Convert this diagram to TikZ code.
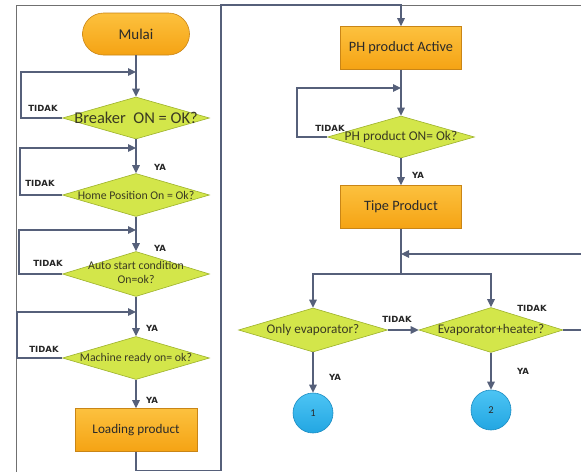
\documentclass[tikz,border=0pt]{standalone}
\usepackage{fontspec}
\setmainfont{Carlito}
\newfontfamily\lblfont{DejaVu Sans}
\usetikzlibrary{shapes.geometric,arrows.meta,calc}
\definecolor{lnc}{HTML}{56607A}
\definecolor{bordc}{HTML}{707070}
\definecolor{ort}{HTML}{FCC13E}
\definecolor{orb}{HTML}{F5A314}
\definecolor{ord}{HTML}{C98516}
\definecolor{dgf}{HTML}{D3E64A}
\definecolor{dgd}{HTML}{9DB22B}
\definecolor{blt}{HTML}{4CC4F4}
\definecolor{blb}{HTML}{23A6E2}
\definecolor{bld}{HTML}{1C8CC2}
\definecolor{txc}{HTML}{2A2A2A}
\definecolor{dtxc}{HTML}{3A3A22}
\newcommand\ctext[1]{\makebox[0pt]{#1}}
\newcommand\fsz[1]{\fontsize{#1}{#1}\selectfont}
\begin{document}
\begin{tikzpicture}[x=1pt,y=-1pt,
  conn/.style={draw=lnc, line width=1.2pt},
  arr/.style={conn, -{Triangle[length=8pt,width=7.5pt]}},
  bord/.style={draw=bordc, line width=1pt},
  procbox/.style={rectangle, draw=ord, line width=0.6pt, top color=ort, bottom color=orb,
    minimum width=121pt, minimum height=43pt, inner sep=0pt, text=txc, font=\fsz{14.3}},
  termbox/.style={procbox, rounded corners=21pt, minimum width=107pt, minimum height=42pt, font=\fsz{15}},
  decis/.style={diamond, draw=dgd, line width=0.6pt, fill=dgf, minimum width=147pt,
    minimum height=43pt, inner sep=0pt, text=dtxc, font=\fsz{11.8}},
  conncirc/.style={circle, draw=bld, line width=0.6pt, top color=blt, bottom color=blb,
    minimum size=40pt, inner sep=0pt, text=txc, font=\fsz{10.5}},
  lab/.style={font=\lblfont\bfseries\fsz{8.5}, text=black!85, inner sep=0pt}]
\useasboundingbox (0,0) rectangle (581,472);
\fill[white] (0,0) rectangle (581,472);
\draw[bord] (16,472) -- (16,5) -- (581,5);

% left column
\node[termbox] (m) at (136,34) {Mulai};
\node[decis, font=\fsz{16.5}, minimum height=42pt] (d1) at (136,118) {\ctext{Breaker\ \ ON = OK?}};
\node[decis] (d2) at (136,195) {\ctext{Home Position On = Ok?}};
\node[decis, minimum height=45pt, font=\fontsize{11.8}{14}\selectfont] (d3) at (136,274)
  {\ctext{\begin{tabular}{@{}c@{}}Auto start condition\\On=ok?\end{tabular}}};
\node[decis] (d4) at (136,358) {\ctext{Machine ready on= ok?}};
\node[procbox, minimum width=122pt, font=\fsz{13.2}] (ld) at (136,430) {Loading product};

\coordinate (j1) at (136,72);
\coordinate (j2) at (136,148);
\coordinate (j3) at (136,230);
\coordinate (j4) at (136,312);

\draw[arr] (m) -- (d1);
\draw[arr] (d1) -- (d2);
\draw[arr] (d2) -- (d3);
\draw[arr] (d3) -- (d4);
\draw[arr] (d4) -- (ld);
\draw[arr] (d1.west) -| (21,72) -- (j1);
\draw[arr] (d2.west) -| (20,148) -- (j2);
\draw[arr] (d3.west) -| (19,230) -- (j3);
\draw[arr] (d4.west) -| (17,312) -- (j4);

\node[lab] (t1) at (43,108) {TIDAK};
\node[lab] (t2) at (40,183) {TIDAK};
\node[lab] (t3) at (48,263) {TIDAK};
\node[lab] (t4) at (44,349) {TIDAK};
\node[lab] (y1) at (160,167) {YA};
\node[lab] (y2) at (160,248) {YA};
\node[lab] (y3) at (152,328) {YA};
\node[lab] (y4) at (152,400) {YA};

% right column
\node[procbox] (P) at (401,48) {PH product Active};
\node[decis, minimum height=42pt, font=\fsz{13.4}] (d5) at (401,137) {\ctext{PH product ON= Ok?}};
\node[procbox] (T) at (401,207) {Tipe Product};
\node[decis, minimum width=149pt, minimum height=44pt, font=\fsz{13.2}] (e1) at (313,330) {\ctext{Only evaporator?}};
\node[decis, minimum width=144pt, minimum height=45pt, font=\fsz{13.2}] (e2) at (491,330) {\ctext{Evaporator+heater?}};
\node[conncirc] (c1) at (313,413) {1};
\node[conncirc] (c2) at (491,410) {2};

\draw[arr] (ld.south) -- (136,470.5) -| (221,5) -| (P.north);

\coordinate (j5) at (401,88);
\coordinate (br) at (401,274);
\coordinate (ret) at (401,254);
\coordinate (retin) at (581,254);
\coordinate (out) at (581,330);

\draw[arr] (P) -- (d5);
\draw[arr] (d5.west) -| (297,88) -- (j5);
\draw[arr] (d5) -- (T);
\draw[conn] (T) -- (br);
\draw[arr] (retin) -- (ret);
\draw[arr] (br) -| (e1.north);
\draw[arr] (br) -| (e2.north);
\draw[arr] (e1.east) -- (e2.west);
\draw[conn] (e2.east) -- (out);
\draw[arr] (e1) -- (c1);
\draw[arr] (e2) -- (c2);

\node[lab] (t5) at (330,128) {TIDAK};
\node[lab] (t6) at (397,319) {TIDAK};
\node[lab] (t7) at (532,308) {TIDAK};
\node[lab] (y5) at (418,175) {YA};
\node[lab] (y6) at (335,377) {YA};
\node[lab] (y7) at (523,371) {YA};
\end{tikzpicture}
\end{document}
